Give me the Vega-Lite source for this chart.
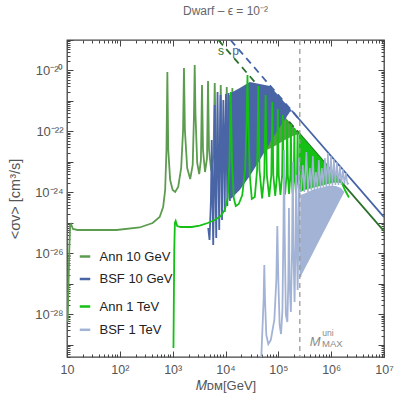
{
"$schema": "https://vega.github.io/schema/vega-lite/v6.json",
"width": 317, "height": 317,
"autosize": {"type": "none"},
"padding": {"left": 67, "top": 40, "right": 15, "bottom": 51},
"background": "white",
"config": {"view": {"stroke": "#444", "strokeWidth": 1.3}, "font": "Liberation Sans"},
"title": {"text": "Dwarf – ϵ = 10⁻²", "fontSize": 12, "color": "#666", "fontWeight": "normal", "offset": 16, "font": "Liberation Sans"},
"resolve": {"axis": {"x": "independent", "y": "independent"}},
"datasets": {
"ann10": [
{"M":10.31,"sv":5.60e-29},{"M":11.05,"sv":1.29e-26},{"M":11.45,"sv":8.52e-26},{"M":11.91,"sv":9.19e-26},{"M":12.99,"sv":6.30e-26},{"M":15.81,"sv":5.84e-26},{"M":86.8,"sv":5.84e-26},{"M":236.8,"sv":7.06e-26},{"M":417.7,"sv":9.91e-26},{"M":567,"sv":1.56e-25},{"M":660.5,"sv":3.32e-25},{"M":720.8,"sv":1.20e-24},{"M":762.8,"sv":2.46e-23},{"M":793.4,"sv":8.91e-21},{"M":825.2,"sv":2.46e-23},{"M":896.7,"sv":2.55e-24},{"M":999.8,"sv":1.20e-24},{"M":1115,"sv":1.03e-24},{"M":1271,"sv":1.50e-24},{"M":1449,"sv":6.32e-24},{"M":1574,"sv":1.11e-22},{"M":1637,"sv":1.21e-20},{"M":1703,"sv":1.11e-22},{"M":1883,"sv":6.32e-24},{"M":2146,"sv":2.75e-24},{"M":2394,"sv":7.92e-24},{"M":2533,"sv":3.46e-22},{"M":2612,"sv":1.51e-20},{"M":2705,"sv":3.46e-22},{"M":2913,"sv":9.22e-24},{"M":3180,"sv":4.01e-24},{"M":3423,"sv":1.16e-23},{"M":3593,"sv":3.34e-21},{"M":3752,"sv":2.46e-23},{"M":4096,"sv":4.67e-24},{"M":4469,"sv":1.34e-23},{"M":4670,"sv":4.52e-21},{"M":4877,"sv":2.46e-23},{"M":5367,"sv":5.04e-24},{"M":5934,"sv":1.69e-23},{"M":6255,"sv":3.88e-21},{"M":6535,"sv":3.59e-23},{"M":7129,"sv":6.32e-24},{"M":7780,"sv":2.46e-23},{"M":8127,"sv":3.34e-21},{"M":8490,"sv":3.59e-23},{"M":9262,"sv":7.35e-24},{"M":10108,"sv":2.86e-23},{"M":10560,"sv":2.87e-21},{"M":11030,"sv":3.59e-23},{"M":12036,"sv":8.55e-24},{"M":13020,"sv":2.86e-23},{"M":13486,"sv":2.66e-21},{"M":14026,"sv":3.59e-23},{"M":15298,"sv":9.94e-24},{"M":16480,"sv":2.86e-23},{"M":17066,"sv":2.29e-21},{"M":17828,"sv":3.59e-23},{"M":19454,"sv":1.16e-23},{"M":20590,"sv":2.86e-23},{"M":21414,"sv":2.29e-21},{"M":23160,"sv":3.59e-23}
],
"ann10band": [
{"M":23160,"lo":1.16e-23,"hi":3.10e-21},{"M":35840,"lo":1.56e-23,"hi":3.10e-21},{"M":55460,"lo":2.28e-23,"hi":1.74e-21},{"M":85800,"lo":3.33e-23,"hi":7.26e-22},{"M":132800,"lo":5.24e-23,"hi":3.02e-22},{"M":205400,"lo":7.64e-23,"hi":1.27e-22},{"M":255500,"lo":8.12e-23,"hi":8.22e-23}
],
"sline": [{"M":7328,"sv":1e-19},{"M":255500,"sv":8.22e-23}],
"pline": [{"M":12445,"sv":1e-19},{"M":255500,"sv":2.37e-22}],
"ann10tail": [{"M":223900,"sv":1.07e-22},{"M":10000000,"sv":5.37e-26}],
"bsf10tail": [{"M":180300,"sv":4.77e-22},{"M":10000000,"sv":1.55e-25}],
"bsf10": [
{"M":4709,"sv":6.79e-26},{"M":4984,"sv":2.74e-26},{"M":5298,"sv":5.63e-25},{"M":5487,"sv":5.24e-23},{"M":5682,"sv":5.63e-25},{"M":5858,"sv":1.88e-26},{"M":6066,"sv":2.55e-24},{"M":6255,"sv":7.37e-22},{"M":6449,"sv":2.55e-24},{"M":6678,"sv":3.19e-26},{"M":6885,"sv":2.46e-23},{"M":7068,"sv":1.97e-21},{"M":7256,"sv":2.46e-23},{"M":7612,"sv":5.84e-26},{"M":7849,"sv":5.24e-23},{"M":8056,"sv":1.57e-21},{"M":8270,"sv":5.24e-23},{"M":8601,"sv":1.24e-25},{"M":8866,"sv":5.24e-23},{"M":9102,"sv":1.08e-21},{"M":9345,"sv":5.24e-23},{"M":9678,"sv":2.28e-25},{"M":9934,"sv":5.24e-23},{"M":10198,"sv":1.69e-21},{"M":10469,"sv":5.24e-23},{"M":10839,"sv":3.58e-25},{"M":11126,"sv":5.24e-23},{"M":11422,"sv":1.82e-21},{"M":11725,"sv":5.24e-23},{"M":12140,"sv":5.22e-25},{"M":12462,"sv":1.57e-21},{"M":12853,"sv":6.55e-25}
],
"bsf10band": [
{"M":12580,"lo":6.07e-25,"hi":1.82e-21},{"M":18630,"lo":1.20e-24,"hi":2.66e-21},{"M":28820,"lo":3.45e-24,"hi":4.19e-21},{"M":44590,"lo":1.16e-23,"hi":3.60e-21},{"M":69000,"lo":4.18e-23,"hi":3.10e-21},{"M":106700,"lo":1.40e-22,"hi":1.35e-21},{"M":165200,"lo":4.34e-22,"hi":5.68e-22},{"M":180200,"lo":4.76e-22,"hi":4.76e-22}
],
"ann1": [
{"M":1035,"sv":7.85e-30},{"M":1072,"sv":1.29e-26},{"M":1101,"sv":9.91e-26},{"M":1140,"sv":1.15e-25},{"M":1217,"sv":7.90e-26},{"M":1418,"sv":7.33e-26},{"M":2292,"sv":7.33e-26},{"M":3250,"sv":8.20e-26},{"M":4607,"sv":9.91e-26},{"M":6255,"sv":1.24e-25},{"M":8127,"sv":1.68e-25},{"M":9678,"sv":2.65e-25},{"M":11030,"sv":6.55e-25},{"M":11930,"sv":1.16e-23},{"M":12580,"sv":1.97e-21},{"M":13250,"sv":1.16e-23},{"M":14330,"sv":6.55e-25},{"M":15640,"sv":3.58e-25},{"M":17830,"sv":4.16e-25},{"M":20770,"sv":8.22e-25},{"M":23470,"sv":5.43e-24},{"M":25180,"sv":2.37e-22},{"M":26060,"sv":7.11e-21},{"M":26990,"sv":2.37e-22},{"M":28820,"sv":3.72e-24},{"M":31450,"sv":6.07e-25},{"M":35840,"sv":7.06e-25},{"M":39630,"sv":5.43e-24},{"M":41770,"sv":3.10e-21},{"M":44000,"sv":5.43e-24},{"M":49300,"sv":6.31e-25},{"M":54280,"sv":3.72e-24},{"M":57440,"sv":1.57e-21},{"M":60530,"sv":3.72e-24},{"M":67210,"sv":7.06e-25},{"M":73650,"sv":3.72e-24},{"M":76940,"sv":9.24e-22},{"M":80370,"sv":3.72e-24},{"M":87330,"sv":7.62e-25},{"M":94470,"sv":3.72e-24},{"M":97830,"sv":5.45e-22},{"M":101700,"sv":3.72e-24},{"M":109600,"sv":8.22e-25},{"M":118000,"sv":3.72e-24},{"M":121700,"sv":3.46e-22},{"M":126000,"sv":3.72e-24},{"M":134000,"sv":8.53e-25},{"M":143000,"sv":3.72e-24},{"M":146900,"sv":2.37e-22},{"M":151400,"sv":3.72e-24},{"M":159600,"sv":8.87e-25},{"M":168900,"sv":3.72e-24},{"M":172600,"sv":1.75e-22},{"M":177200,"sv":3.72e-24},{"M":186700,"sv":9.20e-25},{"M":196700,"sv":3.72e-24},{"M":201100,"sv":1.30e-22},{"M":205400,"sv":3.72e-24},{"M":215600,"sv":9.56e-25},{"M":226200,"sv":3.72e-24},{"M":231200,"sv":9.96e-23},{"M":236300,"sv":3.72e-24},{"M":246900,"sv":9.93e-25}
],
"ann1band": [
{"M":244700,"lo":9.93e-25,"hi":8.97e-23},{"M":318000,"lo":1.20e-24,"hi":5.31e-23},{"M":431600,"lo":1.39e-24,"hi":2.88e-23},{"M":612000,"lo":1.62e-24,"hi":1.43e-23},{"M":867800,"lo":1.89e-24,"hi":7.13e-24},{"M":1178000,"lo":2.11e-24,"hi":3.87e-24},{"M":1599000,"lo":2.03e-24,"hi":2.03e-24}
],
"ann1tail": [{"M":1599000,"sv":2.03e-24},{"M":1823000,"sv":1.20e-24},{"M":2170000,"sv":6.80e-25}],
"bsf1": [
{"M":47610,"sv":4.0e-30},{"M":52640,"sv":2.95e-28},{"M":54280,"sv":4.15e-27},{"M":55960,"sv":2.95e-28},{"M":59230,"sv":2.10e-29},{"M":64620,"sv":1.06e-29},{"M":72090,"sv":1.44e-29},{"M":83990,"sv":6.51e-29},{"M":91630,"sv":1.34e-27},{"M":95720,"sv":7.90e-26},{"M":100000,"sv":1.34e-27},{"M":105800,"sv":4.46e-29},{"M":112500,"sv":2.26e-29},{"M":119600,"sv":1.39e-28},{"M":124900,"sv":5.84e-26},{"M":128300,"sv":2.46e-23},{"M":131700,"sv":5.84e-26},{"M":138800,"sv":9.50e-29},{"M":148200,"sv":5.60e-29},{"M":154700,"sv":1.34e-27},{"M":158800,"sv":3.08e-25},{"M":163000,"sv":1.34e-27},{"M":172600,"sv":1.19e-28},{"M":181800,"sv":1.29e-26},{"M":187500,"sv":9.94e-24},{"M":193400,"sv":1.29e-26},{"M":202900,"sv":2.54e-28},{"M":211900,"sv":2.74e-26},{"M":217600,"sv":3.72e-24},{"M":223400,"sv":2.74e-26},{"M":232200,"sv":6.28e-28},{"M":240500,"sv":5.84e-26},{"M":246900,"sv":1.34e-23},{"M":253400,"sv":5.84e-26},{"M":262400,"sv":1.68e-27}
],
"bsf1band": [
{"M":262400,"lo":1.68e-27,"hi":8.22e-25},{"M":332100,"lo":3.71e-27,"hi":9.56e-25},{"M":431600,"lo":8.90e-27,"hi":1.20e-24},{"M":612000,"lo":2.89e-26,"hi":1.39e-24},{"M":867800,"lo":9.33e-26,"hi":1.62e-24},{"M":1230000,"lo":3.01e-25,"hi":1.62e-24},{"M":1530000,"lo":6.31e-25,"hi":1.39e-24},{"M":1783000,"lo":1.03e-24,"hi":1.03e-24}
],
"bsf1spikes": [
{"M":267100,"sv":1.03e-24},{"M":291400,"sv":7.92e-24},{"M":311100,"sv":1.03e-24},{"M":339500,"sv":2.12e-23},{"M":362600,"sv":1.03e-24},{"M":395700,"sv":6.32e-24},{"M":422400,"sv":1.20e-24},{"M":450800,"sv":1.56e-23},{"M":481500,"sv":1.20e-24},{"M":514000,"sv":4.67e-24},{"M":548700,"sv":1.29e-24},{"M":585700,"sv":1.16e-23},{"M":625500,"sv":1.39e-24},{"M":667700,"sv":6.32e-24},{"M":712900,"sv":1.50e-24},{"M":761300,"sv":1.34e-23},{"M":812700,"sv":1.50e-24},{"M":867800,"sv":1.96e-23},{"M":926400,"sv":1.62e-24},{"M":989000,"sv":1.56e-23},{"M":1056000,"sv":1.62e-24},{"M":1127000,"sv":1.25e-23},{"M":1204000,"sv":1.75e-24},{"M":1285000,"sv":9.94e-24},{"M":1372000,"sv":1.75e-24},{"M":1465000,"sv":7.35e-24},{"M":1564000,"sv":1.75e-24},{"M":1670000,"sv":5.86e-24},{"M":1783000,"sv":1.89e-24},{"M":1904000,"sv":4.33e-24},{"M":2032000,"sv":1.89e-24},{"M":2170000,"sv":2.03e-24}
],
"mmax": [{"M":255000}],
"lab_s": [{"M":8222,"sv":4.36e-20,"t":"s"}],
"lab_p": [{"M":15470,"sv":4.36e-20,"t":"p"}],
"lab_M": [{"M":628000,"sv":1.24e-29,"t":"M"}],
"lab_uni": [{"M":680000,"sv":2.35e-29,"t":"uni"}],
"lab_max": [{"M":670000,"sv":1.03e-29,"t":"MAX"}]
},
"layer": [
{"data":{"name":"ann10band"},"mark":{"type":"area","color":"#5c9c4e","clip":true},
 "encoding":{
  "x":{"field":"M","type":"quantitative","scale":{"type":"log","domain":[10,10000000],"nice":false},
   "axis":{"orient":"bottom","values":[10,100,1000,10000,100000,1000000,10000000],"grid":false,"domain":false,
    "labelExpr":"abs(log(datum.value)/LN10-1)<0.001 ? '10' : abs(log(datum.value)/LN10-2)<0.001 ? '10²' : abs(log(datum.value)/LN10-3)<0.001 ? '10³' : abs(log(datum.value)/LN10-4)<0.001 ? '10⁴' : abs(log(datum.value)/LN10-5)<0.001 ? '10⁵' : abs(log(datum.value)/LN10-6)<0.001 ? '10⁶' : abs(log(datum.value)/LN10-7)<0.001 ? '10⁷' : ''",
    "labelOverlap":false,"labelBound":false,"labelFlush":false,
    "tickSize":-6,"tickColor":"#444","tickWidth":1,
    "labelFontSize":12.5,"labelColor":"#555","labelFont":"Liberation Sans","labelPadding":12,
    "title":"𝑀ᴅᴍ[GeV]","titleFontSize":13,"titleColor":"#555","titleFontWeight":"normal","titleFont":"Liberation Sans","titlePadding":4}},
  "y":{"field":"lo","type":"quantitative","scale":{"type":"log","domain":[3.98e-30,1e-19],"nice":false},
   "axis":{"orient":"left","values":[1e-29,1e-28,1e-27,1e-26,1e-25,1e-24,1e-23,1e-22,1e-21,1e-20,1e-19],"grid":false,"domain":false,
    "labelExpr":"abs(log(datum.value)/LN10+20)<0.001 ? '10⁻²⁰' : abs(log(datum.value)/LN10+22)<0.001 ? '10⁻²²' : abs(log(datum.value)/LN10+24)<0.001 ? '10⁻²⁴' : abs(log(datum.value)/LN10+26)<0.001 ? '10⁻²⁶' : abs(log(datum.value)/LN10+28)<0.001 ? '10⁻²⁸' : ''",
    "labelOverlap":false,"labelBound":false,"labelFlush":false,
    "tickSize":-6,"tickColor":"#444","tickWidth":1,
    "labelFontSize":13,"labelColor":"#555","labelFont":"Liberation Sans","labelPadding":10,
    "title":"<σv> [cm³/s]","titleFontSize":14.5,"titleColor":"#555","titleFontWeight":"normal","titleFont":"Liberation Sans","titlePadding":12}},
  "y2":{"field":"hi"}}},
{"data":{"name":"ann10"},"mark":{"type":"line","strokeWidth":1.8,"clip":true},
 "encoding":{
  "x":{"field":"M","type":"quantitative","scale":{"type":"log","domain":[10,10000000],"nice":false},
   "axis":{"orient":"bottom","values":[20,30,40,50,60,70,80,90,200,300,400,500,600,700,800,900,2000,3000,4000,5000,6000,7000,8000,9000,20000,30000,40000,50000,60000,70000,80000,90000,200000,300000,400000,500000,600000,700000,800000,900000,2000000,3000000,4000000,5000000,6000000,7000000,8000000,9000000],
    "grid":false,"domain":false,"labels":false,"title":null,"tickSize":-3,"tickColor":"#444","tickWidth":1}},
  "y":{"field":"sv","type":"quantitative","scale":{"type":"log","domain":[3.98e-30,1e-19],"nice":false},
   "axis":{"orient":"left","values":[4e-30,5e-30,6e-30,7e-30,8e-30,9e-30,2e-29,3e-29,4e-29,5e-29,6e-29,7e-29,8e-29,9e-29,2e-28,3e-28,4e-28,5e-28,6e-28,7e-28,8e-28,9e-28,2e-27,3e-27,4e-27,5e-27,6e-27,7e-27,8e-27,9e-27,2e-26,3e-26,4e-26,5e-26,6e-26,7e-26,8e-26,9e-26,2e-25,3e-25,4e-25,5e-25,6e-25,7e-25,8e-25,9e-25,2e-24,3e-24,4e-24,5e-24,6e-24,7e-24,8e-24,9e-24,2e-23,3e-23,4e-23,5e-23,6e-23,7e-23,8e-23,9e-23,2e-22,3e-22,4e-22,5e-22,6e-22,7e-22,8e-22,9e-22,2e-21,3e-21,4e-21,5e-21,6e-21,7e-21,8e-21,9e-21,2e-20,3e-20,4e-20,5e-20,6e-20,7e-20,8e-20,9e-20],
    "grid":false,"domain":false,"labels":false,"title":null,"tickSize":-3,"tickColor":"#444","tickWidth":1}},
  "stroke":{"datum":"Ann 10 GeV","type":"nominal","scale":{"domain":["Ann 10 GeV","BSF 10 GeV"],"range":["#5c9c4e","#4a65a5"]},
   "legend":{"orient":"none","legendX":11.5,"legendY":210,"title":null,"symbolType":"stroke","symbolSize":110,"symbolStrokeWidth":2.5,"labelFontSize":13,"labelFont":"Liberation Sans","labelColor":"#222","labelOffset":8,"rowPadding":8.5,"padding":0}}}},
{"data":{"name":"sline"},"mark":{"type":"line","color":"#2b712b","strokeWidth":1.8,"strokeDash":[7,5],"clip":true},
 "encoding":{
  "x":{"field":"M","type":"quantitative","scale":{"type":"log","domain":[10,10000000],"nice":false},
   "axis":{"orient":"top","values":[10,100,1000,10000,100000,1000000,10000000],"grid":false,"domain":false,"labels":false,"title":null,"tickSize":-6,"tickColor":"#444","tickWidth":1}},
  "y":{"field":"sv","type":"quantitative","scale":{"type":"log","domain":[3.98e-30,1e-19],"nice":false},
   "axis":{"orient":"right","values":[1e-29,1e-28,1e-27,1e-26,1e-25,1e-24,1e-23,1e-22,1e-21,1e-20,1e-19],"grid":false,"domain":false,"labels":false,"title":null,"tickSize":-6,"tickColor":"#444","tickWidth":1}}}},
{"data":{"name":"bsf10band"},"mark":{"type":"area","color":"#4a65a5","clip":true},
 "encoding":{
  "x":{"field":"M","type":"quantitative","scale":{"type":"log","domain":[10,10000000],"nice":false},"axis":null},
  "y":{"field":"lo","type":"quantitative","scale":{"type":"log","domain":[3.98e-30,1e-19],"nice":false},"axis":null},
  "y2":{"field":"hi"}}},
{"data":{"name":"bsf10"},"mark":{"type":"line","strokeWidth":1.8,"clip":true},
 "encoding":{
  "x":{"field":"M","type":"quantitative","scale":{"type":"log","domain":[10,10000000],"nice":false},"axis":null},
  "y":{"field":"sv","type":"quantitative","scale":{"type":"log","domain":[3.98e-30,1e-19],"nice":false},"axis":null},
  "stroke":{"datum":"BSF 10 GeV","type":"nominal","scale":{"domain":["Ann 10 GeV","BSF 10 GeV"],"range":["#5c9c4e","#4a65a5"]},
   "legend":{"orient":"none","legendX":11.5,"legendY":210,"title":null,"symbolType":"stroke","symbolSize":110,"symbolStrokeWidth":2.5,"labelFontSize":13,"labelFont":"Liberation Sans","labelColor":"#222","labelOffset":8,"rowPadding":8.5,"padding":0}}}},
{"data":{"name":"pline"},"mark":{"type":"line","color":"#4563a6","strokeWidth":1.8,"strokeDash":[7,5],"clip":true},
 "encoding":{
  "x":{"field":"M","type":"quantitative","scale":{"type":"log","domain":[10,10000000],"nice":false},
   "axis":{"orient":"top","values":[20,30,40,50,60,70,80,90,200,300,400,500,600,700,800,900,2000,3000,4000,5000,6000,7000,8000,9000,20000,30000,40000,50000,60000,70000,80000,90000,200000,300000,400000,500000,600000,700000,800000,900000,2000000,3000000,4000000,5000000,6000000,7000000,8000000,9000000],
    "grid":false,"domain":false,"labels":false,"title":null,"tickSize":-3,"tickColor":"#444","tickWidth":1}},
  "y":{"field":"sv","type":"quantitative","scale":{"type":"log","domain":[3.98e-30,1e-19],"nice":false},
   "axis":{"orient":"right","values":[4e-30,5e-30,6e-30,7e-30,8e-30,9e-30,2e-29,3e-29,4e-29,5e-29,6e-29,7e-29,8e-29,9e-29,2e-28,3e-28,4e-28,5e-28,6e-28,7e-28,8e-28,9e-28,2e-27,3e-27,4e-27,5e-27,6e-27,7e-27,8e-27,9e-27,2e-26,3e-26,4e-26,5e-26,6e-26,7e-26,8e-26,9e-26,2e-25,3e-25,4e-25,5e-25,6e-25,7e-25,8e-25,9e-25,2e-24,3e-24,4e-24,5e-24,6e-24,7e-24,8e-24,9e-24,2e-23,3e-23,4e-23,5e-23,6e-23,7e-23,8e-23,9e-23,2e-22,3e-22,4e-22,5e-22,6e-22,7e-22,8e-22,9e-22,2e-21,3e-21,4e-21,5e-21,6e-21,7e-21,8e-21,9e-21,2e-20,3e-20,4e-20,5e-20,6e-20,7e-20,8e-20,9e-20],
    "grid":false,"domain":false,"labels":false,"title":null,"tickSize":-3,"tickColor":"#444","tickWidth":1}}}},
{"data":{"name":"ann10tail"},"mark":{"type":"line","color":"#2b712b","strokeWidth":1.8,"clip":true},
 "encoding":{
  "x":{"field":"M","type":"quantitative","scale":{"type":"log","domain":[10,10000000],"nice":false},"axis":null},
  "y":{"field":"sv","type":"quantitative","scale":{"type":"log","domain":[3.98e-30,1e-19],"nice":false},"axis":null}}},
{"data":{"name":"bsf10tail"},"mark":{"type":"line","color":"#4563a6","strokeWidth":1.8,"clip":true},
 "encoding":{
  "x":{"field":"M","type":"quantitative","scale":{"type":"log","domain":[10,10000000],"nice":false},"axis":null},
  "y":{"field":"sv","type":"quantitative","scale":{"type":"log","domain":[3.98e-30,1e-19],"nice":false},"axis":null}}},
{"data":{"name":"ann1band"},"mark":{"type":"area","color":"#14c014","clip":true},
 "encoding":{
  "x":{"field":"M","type":"quantitative","scale":{"type":"log","domain":[10,10000000],"nice":false},"axis":null},
  "y":{"field":"lo","type":"quantitative","scale":{"type":"log","domain":[3.98e-30,1e-19],"nice":false},"axis":null},
  "y2":{"field":"hi"}}},
{"data":{"name":"ann1"},"mark":{"type":"line","strokeWidth":1.8,"clip":true},
 "encoding":{
  "x":{"field":"M","type":"quantitative","scale":{"type":"log","domain":[10,10000000],"nice":false},"axis":null},
  "y":{"field":"sv","type":"quantitative","scale":{"type":"log","domain":[3.98e-30,1e-19],"nice":false},"axis":null},
  "color":{"datum":"Ann 1 TeV","type":"nominal","scale":{"domain":["Ann 1 TeV","BSF 1 TeV"],"range":["#14c014","#a3b3d6"]},
   "legend":{"orient":"none","legendX":11.5,"legendY":260,"title":null,"symbolType":"stroke","symbolSize":110,"symbolStrokeWidth":2.5,"labelFontSize":13,"labelFont":"Liberation Sans","labelColor":"#222","labelOffset":8,"rowPadding":9.3,"padding":0}}}},
{"data":{"name":"ann1tail"},"mark":{"type":"line","color":"#14c014","strokeWidth":1.8,"clip":true},
 "encoding":{
  "x":{"field":"M","type":"quantitative","scale":{"type":"log","domain":[10,10000000],"nice":false},"axis":null},
  "y":{"field":"sv","type":"quantitative","scale":{"type":"log","domain":[3.98e-30,1e-19],"nice":false},"axis":null}}},
{"data":{"name":"bsf1band"},"mark":{"type":"area","color":"#a3b3d6","clip":true},
 "encoding":{
  "x":{"field":"M","type":"quantitative","scale":{"type":"log","domain":[10,10000000],"nice":false},"axis":null},
  "y":{"field":"lo","type":"quantitative","scale":{"type":"log","domain":[3.98e-30,1e-19],"nice":false},"axis":null},
  "y2":{"field":"hi"}}},
{"data":{"name":"bsf1"},"mark":{"type":"line","strokeWidth":1.8,"clip":true},
 "encoding":{
  "x":{"field":"M","type":"quantitative","scale":{"type":"log","domain":[10,10000000],"nice":false},"axis":null},
  "y":{"field":"sv","type":"quantitative","scale":{"type":"log","domain":[3.98e-30,1e-19],"nice":false},"axis":null},
  "color":{"datum":"BSF 1 TeV","type":"nominal","scale":{"domain":["Ann 1 TeV","BSF 1 TeV"],"range":["#14c014","#a3b3d6"]},
   "legend":{"orient":"none","legendX":11.5,"legendY":260,"title":null,"symbolType":"stroke","symbolSize":110,"symbolStrokeWidth":2.5,"labelFontSize":13,"labelFont":"Liberation Sans","labelColor":"#222","labelOffset":8,"rowPadding":9.3,"padding":0}}}},
{"data":{"name":"bsf1spikes"},"mark":{"type":"line","color":"#a3b3d6","strokeWidth":1.5,"clip":true},
 "encoding":{
  "x":{"field":"M","type":"quantitative","scale":{"type":"log","domain":[10,10000000],"nice":false},"axis":null},
  "y":{"field":"sv","type":"quantitative","scale":{"type":"log","domain":[3.98e-30,1e-19],"nice":false},"axis":null}}},
{"data":{"name":"mmax"},"mark":{"type":"rule","color":"#9a9a9a","strokeWidth":1.3,"strokeDash":[5,4]},
 "encoding":{
  "x":{"field":"M","type":"quantitative","scale":{"type":"log","domain":[10,10000000],"nice":false},"axis":null}}},
{"data":{"name":"lab_s"},"mark":{"type":"text","color":"#2b712b","fontSize":12,"font":"Liberation Sans"},
 "encoding":{
  "x":{"field":"M","type":"quantitative","scale":{"type":"log","domain":[10,10000000],"nice":false},"axis":null},
  "y":{"field":"sv","type":"quantitative","scale":{"type":"log","domain":[3.98e-30,1e-19],"nice":false},"axis":null},
  "text":{"field":"t"}}},
{"data":{"name":"lab_p"},"mark":{"type":"text","color":"#4563a6","fontSize":12,"font":"Liberation Sans"},
 "encoding":{
  "x":{"field":"M","type":"quantitative","scale":{"type":"log","domain":[10,10000000],"nice":false},"axis":null},
  "y":{"field":"sv","type":"quantitative","scale":{"type":"log","domain":[3.98e-30,1e-19],"nice":false},"axis":null},
  "text":{"field":"t"}}},
{"data":{"name":"lab_M"},"mark":{"type":"text","color":"#8a8a8a","fontSize":13,"fontStyle":"italic","font":"Liberation Sans","align":"right"},
 "encoding":{
  "x":{"field":"M","type":"quantitative","scale":{"type":"log","domain":[10,10000000],"nice":false},"axis":null},
  "y":{"field":"sv","type":"quantitative","scale":{"type":"log","domain":[3.98e-30,1e-19],"nice":false},"axis":null},
  "text":{"field":"t"}}},
{"data":{"name":"lab_uni"},"mark":{"type":"text","color":"#8a8a8a","fontSize":8.5,"font":"Liberation Sans","align":"left"},
 "encoding":{
  "x":{"field":"M","type":"quantitative","scale":{"type":"log","domain":[10,10000000],"nice":false},"axis":null},
  "y":{"field":"sv","type":"quantitative","scale":{"type":"log","domain":[3.98e-30,1e-19],"nice":false},"axis":null},
  "text":{"field":"t"}}},
{"data":{"name":"lab_max"},"mark":{"type":"text","color":"#8a8a8a","fontSize":9.5,"font":"Liberation Sans","align":"left"},
 "encoding":{
  "x":{"field":"M","type":"quantitative","scale":{"type":"log","domain":[10,10000000],"nice":false},"axis":null},
  "y":{"field":"sv","type":"quantitative","scale":{"type":"log","domain":[3.98e-30,1e-19],"nice":false},"axis":null},
  "text":{"field":"t"}}}
]
}
